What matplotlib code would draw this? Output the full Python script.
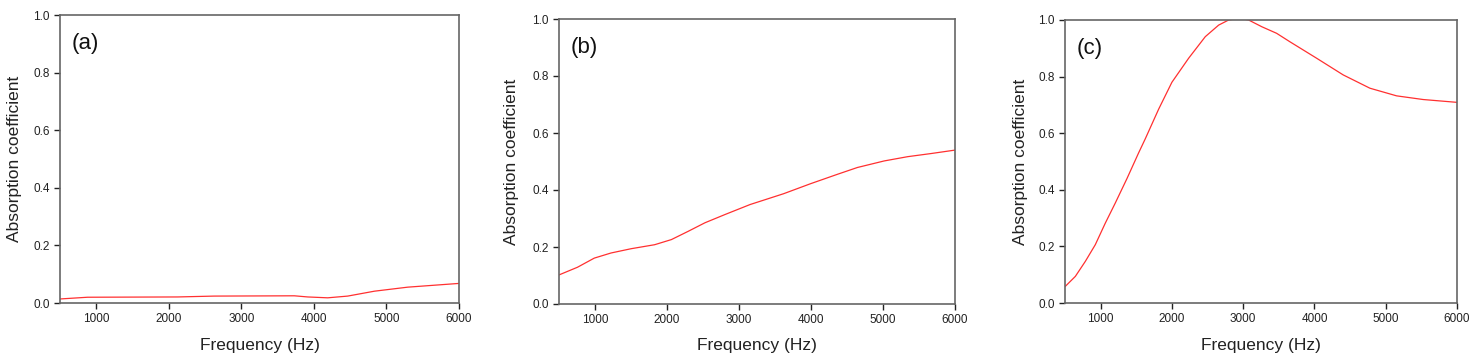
import matplotlib
matplotlib.use("Agg")
import matplotlib.pyplot as plt

plt.rcParams['font.family'] = ['Liberation Sans', 'DejaVu Sans']

# courbes
freq_a = [500, 880, 2120, 2625, 3730, 3914, 4190, 4466, 4834, 5293, 6000]
alpha_a = [0.014, 0.020, 0.021, 0.024, 0.025, 0.021, 0.018, 0.024, 0.041, 0.055, 0.068]

freq_b = [500, 757, 990, 1223, 1502, 1828, 2061, 2294, 2527, 2806, 3154, 3620,
          3993, 4366, 4645, 5017, 5344, 5670, 6000]
alpha_b = [0.102, 0.129, 0.161, 0.179, 0.194, 0.208, 0.226, 0.255, 0.285, 0.314,
           0.349, 0.387, 0.422, 0.455, 0.479, 0.502, 0.517, 0.528, 0.540]

freq_c = [505, 645, 785, 925, 1065, 1205, 1370, 1532, 1626, 1814, 2000, 2235,
          2468, 2656, 2796, 2940, 3076, 3263, 3469, 3656, 4030, 4403, 4778,
          5152, 5525, 6000]
alpha_c = [0.059, 0.094, 0.147, 0.206, 0.282, 0.353, 0.440, 0.530, 0.580, 0.685,
           0.780, 0.865, 0.941, 0.982, 1.000, 1.006, 1.000, 0.976, 0.953, 0.923,
           0.865, 0.806, 0.759, 0.732, 0.719, 0.709]

panneaux = [("(a)", freq_a, alpha_a), ("(b)", freq_b, alpha_b), ("(c)", freq_c, alpha_c)]
xticks = [1000, 2000, 3000, 4000, 5000, 6000]
yticks = [0.0, 0.2, 0.4, 0.6, 0.8, 1.0]

W, H = 1483, 364
# position des axes en pixels: gauche, droite, haut, bas
boites = [(60, 459, 15, 303), (559, 955, 19, 304), (1065, 1457, 20, 303)]
# bord droit du titre vertical
ylab_x = [22, 519, 1028]

fig = plt.figure(figsize=(W / 100, H / 100), dpi=100)

for (nom, f, a), (g, d, h, b), yl in zip(panneaux, boites, ylab_x):
    ax = fig.add_axes([g / W, 1 - b / H, (d - g) / W, (b - h) / H])
    ax.plot(f, a, color="#ff3030", lw=0.9, solid_joinstyle="round")
    ax.set_xlim(500, 6000)
    ax.set_ylim(0, 1.0)
    ax.set_xticks(xticks)
    ax.set_yticks(yticks)
    ax.set_yticklabels(["%.1f" % v for v in yticks])
    ax.tick_params(axis="both", labelsize=8.5, colors="#222222", length=4, width=1,
                   pad=3.5)
    for s in ax.spines.values():
        s.set_color("#666666")
        s.set_linewidth(1.2)
    ax.set_xlabel("Frequency (Hz)", fontsize=12.5, color="#222222")
    ax.set_ylabel("Absorption coefficient", fontsize=12.5, color="#222222")
    ax.xaxis.set_label_coords(0.5, -(338 - b) / (b - h), transform=ax.transAxes)
    ax.yaxis.set_label_coords((yl - g) / (d - g), 0.5, transform=ax.transAxes)
    ax.text(0.03, 0.90, nom, transform=ax.transAxes, fontsize=16, va="center",
            ha="left", color="#111111")

fig.savefig("out.png", dpi=100)
